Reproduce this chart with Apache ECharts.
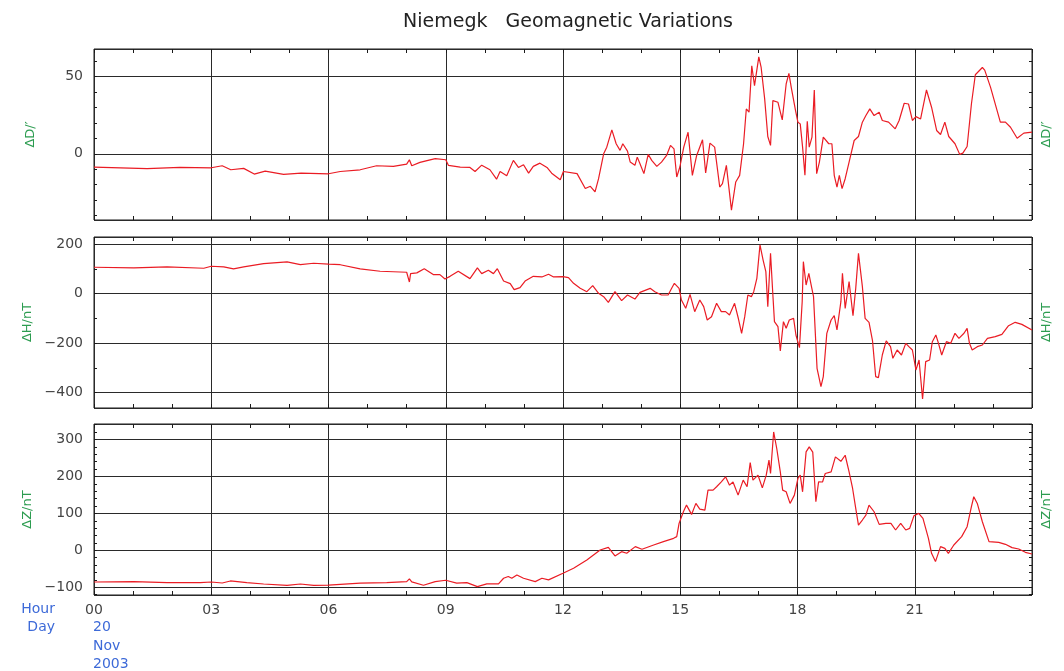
<!DOCTYPE html>
<html>
<head>
<meta charset="utf-8">
<script src="https://cdn.jsdelivr.net/npm/echarts@6/dist/echarts.min.js"></script>
<style>html,body{margin:0;padding:0;background:#fff}#c{width:1064px;height:671px}</style>
</head>
<body>
<div id="c"></div>
<script>
// ---------- data ----------
const titleText = 'Niemegk   Geomagnetic Variations';
const hourLabels = ['00','03','06','09','12','15','18','21'];
const hourLabelValues = [0,3,6,9,12,15,18,21];
const hourTicks = [0,1,2,3,4,5,6,7,8,9,10,11,12,13,14,15,16,17,18,19,20,21,22,23,24];
const dayLabels = ['20','Nov','2003'];
const axisNames = ['\u0394D/\u2032', '\u0394H/nT', '\u0394Z/nT'];

// D panel
const dRange = [-43, 68];
const dLabelValues = [0, 50];
const dTickValues = [-40,-30,-20,-10,0,10,20,30,40,50,60];
const dTime = [0,1.36,2.2,3.0,3.28,3.5,3.83,4.1,4.38,4.85,5.3,6.0,6.3,6.81,7.23,7.66,8.0,8.07,8.13,8.34,8.73,9.0,9.07,9.37,9.62,9.75,9.92,10.13,10.3,10.39,10.56,10.73,10.86,10.99,11.12,11.24,11.41,11.59,11.71,11.93,12.01,12.36,12.57,12.7,12.82,12.91,13.04,13.12,13.25,13.36,13.46,13.53,13.65,13.72,13.84,13.9,13.97,14.07,14.18,14.27,14.4,14.52,14.65,14.75,14.84,14.91,14.99,15.09,15.2,15.31,15.42,15.57,15.65,15.76,15.88,16.01,16.08,16.18,16.31,16.42,16.52,16.62,16.69,16.76,16.83,16.9,17.01,17.07,17.16,17.24,17.31,17.37,17.5,17.61,17.71,17.78,17.84,17.95,18.01,18.07,18.13,18.19,18.25,18.3,18.37,18.43,18.49,18.56,18.66,18.8,18.88,18.94,19.01,19.07,19.14,19.22,19.32,19.45,19.56,19.66,19.75,19.85,19.96,20.09,20.17,20.33,20.5,20.6,20.73,20.84,20.94,21.03,21.15,21.3,21.43,21.56,21.66,21.77,21.87,22.03,22.15,22.23,22.34,22.45,22.55,22.73,22.79,22.94,23.19,23.32,23.45,23.62,23.79,24.0];
const dValue = [-8.7,-9.7,-8.9,-9.1,-7.8,-10.4,-9.5,-13.2,-11.3,-13.4,-12.6,-13.0,-11.5,-10.4,-7.8,-8.2,-6.7,-3.9,-7.8,-5.6,-3.2,-3.9,-7.6,-8.7,-8.9,-11.5,-7.4,-10.4,-16.5,-11.5,-14.3,-4.3,-8.9,-7.1,-12.6,-8.2,-6.1,-8.9,-12.6,-16.9,-11.5,-12.9,-22.6,-21.1,-24.8,-16.2,0,4.3,15.5,6.5,2.2,6.5,1.7,-5.4,-7.5,-2.2,-6.5,-12.9,-0.4,-4.3,-8.2,-5.4,-1.1,5.4,3.2,-15.1,-8.6,4.3,14.0,-14.0,-1.1,9.1,-12.5,6.9,4.3,-21.6,-19.4,-7.5,-36.6,-18.3,-14.0,6.5,29.1,27,57.1,44.2,62.9,56,35.6,11.2,5.4,34.5,33.4,22.0,45.3,52.2,43.1,28.0,20.5,19.4,4.3,-14.0,21.1,4.3,10.8,41.4,-12.9,-5.4,10.8,6.5,6.5,-14.0,-21.6,-14.0,-22.6,-16.2,-5.4,8.6,11.2,20.5,24.8,29.1,24.8,26.9,21.6,20.5,16.2,21.6,32.8,32.3,21.6,24.1,22.6,41.4,30.2,15.1,12.5,20.5,11.2,6.5,-0.4,0.4,4.7,32.3,51.3,56.0,54.3,43.1,20.5,20.5,17.2,10.1,13.4,14.0];

// H panel
const hRange = [-462, 229];
const hLabelValues = [-400,-200,0,200];
const hTickValues = [-400,-300,-200,-100,0,100,200];
const hTime = [0,1.02,1.87,2.81,3.0,3.32,3.57,3.83,4.34,4.94,5.28,5.62,6.0,6.3,6.81,7.32,8.0,8.07,8.1,8.26,8.45,8.68,8.85,8.98,9.11,9.32,9.62,9.81,9.92,10.09,10.22,10.32,10.48,10.65,10.75,10.9,11.03,11.24,11.46,11.63,11.76,12.0,12.14,12.27,12.44,12.61,12.76,12.91,13.04,13.16,13.33,13.5,13.65,13.84,13.97,14.23,14.35,14.52,14.69,14.78,14.85,14.97,15.03,15.14,15.25,15.37,15.5,15.6,15.69,15.8,15.93,16.05,16.16,16.26,16.39,16.49,16.57,16.65,16.73,16.82,16.88,16.96,17.04,17.12,17.19,17.24,17.31,17.36,17.41,17.5,17.56,17.64,17.71,17.79,17.9,17.96,18.05,18.12,18.15,18.22,18.29,18.35,18.41,18.5,18.6,18.66,18.75,18.86,18.94,19.01,19.11,19.15,19.22,19.32,19.42,19.49,19.56,19.66,19.73,19.83,19.92,20.0,20.07,20.17,20.27,20.38,20.44,20.55,20.66,20.77,20.85,20.94,21.03,21.11,21.2,21.28,21.38,21.45,21.54,21.6,21.69,21.81,21.92,22.03,22.13,22.26,22.34,22.4,22.47,22.6,22.73,22.86,23.06,23.23,23.4,23.57,23.74,24.0];
const hValue = [106.7,104,108,102.7,110.8,108,100,108,121.6,128.3,117.5,123,119,117,100,90.5,86.5,47,81,84,101,77,77,59.4,70,90.5,60.8,104,81,94.6,81,101,51,40.5,16.2,24.3,51,70,67.6,78.4,67.6,68.7,64.7,41.8,21.6,8,32.3,1.3,-12,-35,8,-28.3,-5.4,-21.6,5.4,21.6,8,-5.4,-5.4,21.6,41.8,21.6,-25.6,-59.3,-2.7,-72.7,-25.6,-52.5,-106.4,-93,-39,-72.7,-72.7,-86.2,-39,-102.4,-160.3,-93,-5.4,-12,8,62,196.7,136,89,-52.5,163,21.6,-113,-133,-231.7,-113,-140,-106.4,-99.7,-167,-218,-32.3,129.3,35,82,35,-12,-301.7,-375.8,-335,-160.3,-106.4,-89,-146.8,-32.3,82,-59.3,48.5,-89,21.6,163,28.3,-99.7,-115.8,-191,-335,-339.4,-247.8,-191,-214,-261,-227.6,-247.8,-200.7,-214,-227.6,-308.5,-268,-425.7,-274.8,-268,-194,-167,-196.7,-247.8,-194,-200.7,-160.3,-180.5,-160,-140,-200.7,-227.6,-214,-207.4,-180.5,-173.8,-164.3,-129.3,-115.8,-124,-146.8];

// Z panel
const zRange = [-121, 342];
const zLabelValues = [-100,0,100,200,300];
const zTickValues = [-120,-100,-80,-60,-40,-20,0,20,40,60,80,100,120,140,160,180,200,220,240,260,280,300,320,340];
const zTime = [0,1.02,1.87,2.72,3.0,3.28,3.49,3.91,4.34,4.94,5.28,5.62,6.0,6.81,7.49,8.0,8.07,8.13,8.43,8.73,9.0,9.28,9.54,9.81,10.05,10.35,10.48,10.6,10.69,10.82,10.99,11.29,11.46,11.63,12.0,12.27,12.61,12.95,13.16,13.33,13.5,13.63,13.85,14.02,14.32,14.57,14.83,14.91,14.97,15.08,15.16,15.29,15.4,15.5,15.63,15.71,15.84,15.93,16.05,16.16,16.26,16.35,16.48,16.61,16.71,16.79,16.86,16.99,17.1,17.2,17.27,17.31,17.39,17.47,17.56,17.62,17.71,17.81,17.92,18.01,18.07,18.13,18.22,18.3,18.39,18.47,18.54,18.64,18.71,18.86,18.97,19.11,19.22,19.32,19.41,19.49,19.56,19.66,19.75,19.83,19.96,20.09,20.26,20.39,20.51,20.64,20.77,20.87,20.98,21.1,21.21,21.35,21.43,21.53,21.66,21.77,21.86,22.0,22.2,22.34,22.45,22.51,22.6,22.73,22.9,23.15,23.32,23.49,23.66,23.83,24.0];
const zValue = [-85.8,-85,-87.6,-87.6,-85.8,-88.5,-83,-87.6,-91.2,-94.8,-91.2,-94.8,-94,-89,-87.4,-84.7,-77.5,-85.6,-94.6,-84.7,-81,-89,-87.4,-98.2,-91,-91,-75.7,-71,-75.7,-66.7,-75.7,-84.7,-75.7,-80,-62.2,-48.7,-26,0.9,8,-15.3,-3.6,-8,10,3,14.4,23.4,32.4,37,73,104.4,122.4,97.2,127,111.6,109,163,163,172,185.4,199,176.4,185,149.4,190,172,237.6,190,203.4,169,203.4,244,208,320.4,275,212.4,163,158.4,127,149.4,194.4,203.4,158.4,266.4,280,266,131.4,185.4,185,208,212.4,253,241,257.4,212.4,167.4,113.4,68.4,82,95.4,122.4,104.4,70.2,73,73,55,73,55,59.4,93.6,100,86.4,32.4,-8.1,-30.6,9.9,5.4,-8.1,14.4,37,64,118,145,127,77.4,23.4,21.6,16.2,7.2,3.6,-5.4,-10];

// ---------- chart ----------
const FONT = 'DejaVu Sans';
const panels = [
  {t: dTime, v: dValue, range: dRange, labels: dLabelValues, ticks: dTickValues, split: 2, top: 49},
  {t: hTime, v: hValue, range: hRange, labels: hLabelValues, ticks: hTickValues, split: 4, top: 237},
  {t: zTime, v: zValue, range: zRange, labels: zLabelValues, ticks: zTickValues, split: 5, top: 424}
];
const PH = 171;
const grids = [], xAxes = [], yAxes = [], series = [];
const frame = '#1a1a1a', gridColor = '#2a2a2a';
const nameStyle = {color: '#2c9c50', fontFamily: FONT, fontSize: 13};
panels.forEach((p, i) => {
  grids.push({left: 94, right: 32, top: p.top, height: PH, show: true, borderColor: frame, borderWidth: 1, containLabel: false});
  const isLast = i === panels.length - 1;
  xAxes.push({
    type: 'value', gridIndex: i, min: 0, max: 24, interval: 3, position: 'bottom',
    axisLine: {show: false, onZero: false}, axisTick: {show: false},
    splitLine: {show: true, lineStyle: {color: gridColor, width: 1}},
    axisLabel: isLast ? {show: true, customValues: hourLabelValues,
      formatter: v => hourLabels[hourLabelValues.indexOf(v)] || '',
      color: '#444', fontFamily: FONT, fontSize: 14, margin: 8} : {show: false}
  });
  ['bottom', 'top'].forEach(pos => xAxes.push({
    type: 'value', gridIndex: i, min: 0, max: 24, interval: 3, position: pos,
    axisLine: {show: false, onZero: false}, splitLine: {show: false}, axisLabel: {show: false},
    axisTick: {show: true, inside: true, length: 4, customValues: hourTicks, lineStyle: {color: frame}}
  }));
  yAxes.push({
    type: 'value', gridIndex: i, min: p.range[0], max: p.range[1], splitNumber: p.split, position: 'left',
    axisLine: {show: false, onZero: false}, axisTick: {show: false},
    splitLine: {show: true, lineStyle: {color: gridColor, width: 1}},
    axisLabel: {show: true, customValues: p.labels, color: '#444', fontFamily: FONT, fontSize: 14, margin: 11,
      formatter: v => (v < 0 ? '\u2212' + Math.abs(v) : String(v))},
    name: axisNames[i], nameLocation: 'middle', nameRotate: 90, nameGap: 57, nameTextStyle: nameStyle
  });
  ['left', 'right'].forEach(pos => yAxes.push({
    type: 'value', gridIndex: i, min: p.range[0], max: p.range[1], position: pos,
    axisLine: {show: false, onZero: false}, splitLine: {show: false}, axisLabel: {show: false},
    axisTick: {show: true, inside: true, length: 3, customValues: p.ticks, lineStyle: {color: frame}},
    name: pos === 'right' ? axisNames[i] : '', nameLocation: 'middle', nameRotate: 90, nameGap: 8, nameTextStyle: nameStyle
  }));
  series.push({
    type: 'line', xAxisIndex: 3 * i, yAxisIndex: 3 * i,
    data: p.t.map((t, k) => [t, p.v[k]]),
    showSymbol: false, symbol: 'none', animation: false,
    lineStyle: {color: '#ea1c24', width: 1.2}
  });
});

const chart = echarts.init(document.getElementById('c'), null, {renderer: 'canvas'});
const blue = '#3d6ad8';
chart.setOption({
  animation: false,
  backgroundColor: '#fff',
  title: {text: titleText, left: 563, top: 8, textAlign: 'center',
    textStyle: {color: '#222', fontFamily: FONT, fontSize: 19, fontWeight: 'normal'}},
  grid: grids, xAxis: xAxes, yAxis: yAxes, series: series,
  graphic: [
    {type: 'text', x: 55, y: 602, style: {text: 'Hour', fill: blue, font: '14px ' + FONT, textAlign: 'right'}},
    {type: 'text', x: 55, y: 620, style: {text: 'Day', fill: blue, font: '14px ' + FONT, textAlign: 'right'}},
    {type: 'text', x: 93, y: 620, style: {text: dayLabels[0], fill: blue, font: '14px ' + FONT, textAlign: 'left'}},
    {type: 'text', x: 93, y: 639, style: {text: dayLabels[1], fill: blue, font: '14px ' + FONT, textAlign: 'left'}},
    {type: 'text', x: 93, y: 657, style: {text: dayLabels[2], fill: blue, font: '14px ' + FONT, textAlign: 'left'}}
  ]
});
</script>
</body>
</html>
